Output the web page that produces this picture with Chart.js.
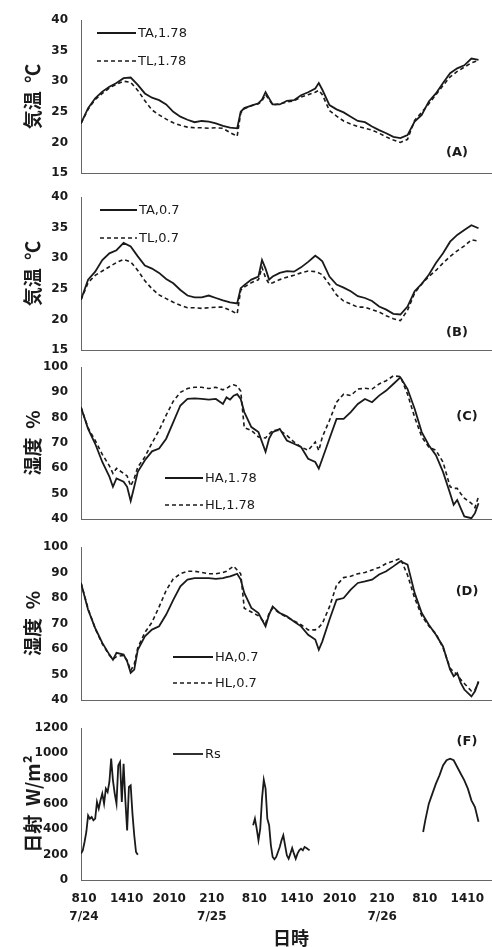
<!DOCTYPE html>
<html>
<head>
<meta charset="utf-8">
<script src="https://cdn.jsdelivr.net/npm/chart.js@4.4.1/dist/chart.umd.min.js"></script>
<style>
  html, body { margin: 0; padding: 0; background: #fff; }
  body { width: 492px; height: 947px; position: relative; overflow: hidden; }
  canvas { position: absolute; left: 0; }
</style>
</head>
<body>
<canvas id="chart-a" width="492" height="197" style="top:-2px"></canvas>
<canvas id="chart-b" width="492" height="197" style="top:175px"></canvas>
<canvas id="chart-c" width="492" height="196" style="top:345px"></canvas>
<canvas id="chart-d" width="492" height="197" style="top:525px"></canvas>
<canvas id="chart-f" width="492" height="241" style="top:706px"></canvas>
<script>
// hours since 7/24 8:10
const hoursT = [0,1,2,3,4,5,6,7,8,9,10,11,12,13,14,15,16,17,18,19,20,21,22,22.5,23,24,25,25.5,26,26.5,
  27,28,29,30,31,32,33,33.5,34,35,36,37,38,39,40,41,42,43,44,45,46,47,48,49,50,51,52,53,54,55,56];

const taHigh = [23.1,25.6,27.2,28.3,29.1,29.7,30.5,30.6,29.4,28.0,27.3,26.9,26.2,25.0,24.2,23.7,23.3,23.5,23.4,23.1,22.7,22.4,22.3,
  25.0,25.6,26.0,26.4,27.0,28.2,27.2,
  26.2,26.2,26.8,26.9,27.7,28.2,28.8,29.7,
  28.6,26.1,25.4,24.9,24.2,23.5,23.3,22.6,22.0,21.5,20.9,20.7,21.2,23.4,24.5,26.7,28.0,29.7,31.3,32.1,32.6,33.7,33.5];
const tlHigh = [23.1,25.4,27.0,28.0,28.9,29.5,30.0,29.8,28.5,26.8,25.3,24.5,23.8,23.2,22.8,22.5,22.4,22.4,22.3,22.4,22.3,21.6,21.0,
  24.8,25.5,26.0,26.3,26.8,27.8,27.0,
  26.1,26.3,26.6,26.8,27.4,27.8,28.2,28.5,
  27.8,25.2,24.3,23.5,23.0,22.6,22.3,22.0,21.5,20.9,20.4,20.0,20.5,23.6,24.9,26.3,27.8,29.3,30.7,31.6,32.3,33.0,33.4];
const taLow = [23.2,26.5,27.8,29.7,30.8,31.3,32.5,31.9,30.3,28.8,28.3,27.6,26.6,25.9,24.8,23.9,23.6,23.6,23.9,23.5,23.1,22.8,22.6,
  25.1,25.6,26.5,27.0,29.7,28.3,26.5,
  27.0,27.6,27.9,27.8,28.5,29.4,30.4,30.0,
  29.5,27.0,25.7,25.2,24.6,23.8,23.5,23.0,22.1,21.6,20.9,20.8,22.1,24.6,25.8,27.3,29.2,30.8,32.7,33.8,34.6,35.4,34.9];
const tlLow = [23.2,26.0,27.2,27.9,28.6,29.3,29.8,29.4,28.0,26.3,25.0,24.0,23.4,22.8,22.3,21.9,21.9,21.8,21.9,22.0,22.0,21.5,20.9,
  24.8,25.3,26.0,26.5,28.5,26.8,25.8,
  26.0,26.5,26.9,27.2,27.6,27.9,27.8,27.6,
  27.3,25.7,24.0,23.0,22.5,22.0,22.0,21.6,21.2,20.6,20.1,19.8,21.5,24.3,25.8,27.0,28.0,29.2,30.3,31.2,32.0,33.0,32.8];

const hoursH = [0,1,2,3,4,4.5,5,6,6.5,7,7.5,8,9,10,11,12,13,14,15,16,17,18,19,20,20.5,21,21.5,22,22.5,
  23,24,25,26,26.5,27,28,29,30,31,32,33,33.5,34,35,36,37,38,39,40,41,42,43,44,45,46,47,48,49,50,51,52,
  52.5,53,53.5,54,55,55.5,56];

const haHigh = [84.1,75.6,69.7,62.5,56.7,52.7,56.0,54.7,52.7,47.1,52.7,
  58.6,63.2,66.7,67.8,71.7,78.2,84.8,87.4,87.6,87.4,87.1,87.4,85.4,
  88.0,87.1,88.7,89.3,87.4,
  82.2,76.3,74.3,66.5,71.7,
  74.3,75.6,71.0,69.7,68.4,63.8,62.5,59.9,
  63.8,71.7,79.5,79.5,82.2,85.4,87.4,86.1,88.7,90.7,93.3,95.9,91.3,83.5,74.3,69.1,65.2,58.6,50.1,
  45.6,47.5,44.2,41.0,40.3,42.3,46.2];
const hlHigh = [84.1,76.0,71.0,65.5,61.0,58.0,60.0,58.0,57.0,53.0,56.0,
  60.5,64.5,70.0,75.0,81.0,86.5,90.0,91.5,92.0,92.0,91.5,92.0,91.0,
  91.5,92.5,93.0,92.5,90.5,
  76.0,75.0,72.4,72.0,73.5,
  75.0,75.0,73.0,70.4,68.4,67.1,70.4,67.0,
  72.4,78.9,86.1,89.3,88.7,91.3,91.6,91.3,93.3,94.6,96.5,96.2,89.3,80.2,72.4,68.4,67.1,62.5,52.7,
  52.1,52.1,50.0,48.2,46.2,44.5,48.8];
const haLow = [85.9,75.4,68.2,62.4,57.8,55.8,58.5,57.8,55.2,50.6,51.9,
  59.7,65.0,67.6,68.9,73.5,79.3,84.6,87.2,87.8,87.8,87.8,87.5,87.8,
  88.2,88.5,89.0,89.5,87.2,
  82.0,76.1,74.1,68.9,73.5,
  76.7,74.1,72.8,70.8,68.9,65.6,63.7,59.7,
  63.0,71.5,79.3,80.0,83.3,85.9,86.5,87.2,89.2,90.5,92.4,94.4,93.1,82.0,74.1,69.5,65.6,61.0,51.9,
  49.3,50.6,46.7,44.1,41.4,43.4,47.3];
const hlLow = [85.9,75.8,68.0,62.0,57.5,56.0,57.0,57.5,55.5,51.5,54.0,
  60.5,66.5,70.5,76.5,83.0,87.5,89.5,90.5,90.5,90.0,89.5,89.5,90.0,
  90.5,91.5,92.5,91.0,89.5,
  76.0,74.5,73.0,70.0,74.0,
  76.0,74.0,72.5,71.0,69.5,67.5,67.5,68.5,
  70.0,76.5,85.0,88.0,88.5,89.5,90.0,91.0,92.0,93.5,94.5,95.5,89.0,80.0,73.0,69.0,66.0,60.5,52.5,
  51.0,50.0,48.0,46.5,43.5,44.0,47.0];

const rsHours = [0,0.25,0.5,0.75,1,1.25,1.5,1.75,2,2.25,2.5,2.75,3,3.25,3.5,3.75,4,4.25,4.5,4.75,5,5.25,5.5,5.75,6,6.25,6.5,6.75,7,7.25,7.5,7.75,8,
  16,
  24.25,24.5,24.75,25,25.25,25.5,25.75,26,26.25,26.5,26.75,27,27.25,27.5,27.75,28,28.25,28.5,28.75,29,29.25,29.5,29.75,30,30.25,30.5,30.75,31,31.25,31.5,31.75,32.2,
  40,
  48.2,48.5,49,49.5,50,50.5,51,51.5,52,52.5,53,53.5,54,54.5,55,55.5,56];
const rsValues = [208,234,300,379,510,484,497,471,484,616,563,629,682,603,721,695,774,958,787,682,603,905,932,616,918,629,392,734,747,524,353,221,200,
  null,
  432,484,405,313,405,642,790,721,484,432,274,182,163,182,221,261,313,353,274,195,168,208,253,208,168,208,234,247,234,261,253,234,
  null,
  379,471,603,682,761,826,905,945,958,945,892,839,787,721,629,576,460];

const tickHours = [0,6,12,18,24,30,36,42,48,54];
const tickTimes = ["810","1410","2010","210","810","1410","2010","210","810","1410"];
const tickDates = ["7/24","","","7/25","","","","7/26","",""];

const INK = "#1a1a1a";
const SANS = "'DejaVu Sans', sans-serif";
const CJK = "'Noto Sans CJK JP', sans-serif";

// legend samples, panel tags and the time title
const panelText = {
  id: "panelText",
  afterDatasetsDraw(chart, args, opts) {
    const { ctx, chartArea: a } = chart;
    ctx.save();
    ctx.strokeStyle = INK;
    ctx.fillStyle = INK;
    ctx.textBaseline = "middle";
    (opts.legend || []).forEach((item, i) => {
      const ds = chart.data.datasets[i];
      ctx.lineWidth = ds.borderWidth;
      ctx.setLineDash(ds.borderDash || []);
      ctx.beginPath();
      ctx.moveTo(a.left + item.x0, a.top + item.y);
      ctx.lineTo(a.left + item.x1, a.top + item.y);
      ctx.stroke();
      ctx.setLineDash([]);
      ctx.font = "13px " + SANS;
      ctx.textAlign = "left";
      ctx.fillText(ds.label, a.left + item.x1 + 2, a.top + item.y + 1);
    });
    if (opts.tag) {
      ctx.font = "bold 13px " + SANS;
      ctx.textAlign = "center";
      ctx.fillText(opts.tag, a.left + opts.tagX, a.top + opts.tagY);
    }
    if (opts.xTitle) {
      ctx.font = "bold 18px " + CJK;
      ctx.textAlign = "center";
      ctx.fillText(opts.xTitle, 291, chart.height - 9);
    }
    ctx.restore();
  }
};

function makeChart(id, cfg) {
  const bottomAxis = !!cfg.xLabels;
  return new Chart(document.getElementById(id), {
    type: "line",
    data: {
      datasets: cfg.series.map((s) => ({
        label: s.label,
        data: s.xs.map((x, i) => ({ x, y: s.ys[i] })),
        borderColor: INK,
        borderWidth: s.dashed ? 1.6 : 1.8,
        borderDash: s.dashed ? [4, 3] : [],
        pointRadius: 0,
        tension: 0,
        fill: false,
        spanGaps: false,
      })),
    },
    options: {
      responsive: false,
      animation: false,
      layout: { padding: { top: 22, bottom: bottomAxis ? 11 : 22, left: 0, right: 0 } },
      plugins: {
        legend: { display: false },
        tooltip: { enabled: false },
        panelText: cfg.text,
      },
      scales: {
        x: {
          type: "linear",
          min: 0,
          max: 57.9,
          grid: { display: false, drawTicks: false },
          border: { display: true, color: "#666", dash: [1, 1], width: 1 },
          afterBuildTicks: (s) => { s.ticks = tickHours.map((v) => ({ value: v })); },
          ticks: {
            display: bottomAxis,
            autoSkip: false,
            maxRotation: 0,
            padding: 10,
            labelOffset: 3,
            color: INK,
            font: { family: SANS, size: 12, weight: "bold", lineHeight: 1.5 },
            callback: (v, i) => (tickDates[i] ? [tickTimes[i], tickDates[i]] : tickTimes[i]),
          },
        },
        y: {
          min: cfg.yMin,
          max: cfg.yMax,
          afterFit: (s) => { s.width = 81; },
          grid: { display: false, drawTicks: false },
          border: { display: true, color: "#666", dash: [1, 1], width: 1 },
          ticks: {
            stepSize: cfg.yStep,
            padding: 13,
            color: INK,
            font: { family: SANS, size: 12, weight: "bold" },
            callback: (v) => String(v),
          },
          title: {
            display: true,
            text: cfg.yTitle,
            color: INK,
            font: { family: CJK, size: 19, weight: "bold" },
            padding: { top: 21, bottom: 0 },
          },
        },
      },
    },
    plugins: [panelText],
  });
}

makeChart("chart-a", {
  yMin: 15, yMax: 40, yStep: 5, yTitle: "気温  ℃",
  series: [
    { label: "TA,1.78", xs: hoursT, ys: taHigh },
    { label: "TL,1.78", xs: hoursT, ys: tlHigh, dashed: true },
  ],
  text: { legend: [{ x0: 16, x1: 55, y: 13 }, { x0: 16, x1: 55, y: 41 }], tag: "(A)", tagX: 376, tagY: 133 },
});

makeChart("chart-b", {
  yMin: 15, yMax: 40, yStep: 5, yTitle: "気温  ℃",
  series: [
    { label: "TA,0.7", xs: hoursT, ys: taLow },
    { label: "TL,0.7", xs: hoursT, ys: tlLow, dashed: true },
  ],
  text: { legend: [{ x0: 19, x1: 56, y: 13 }, { x0: 19, x1: 56, y: 41 }], tag: "(B)", tagX: 376, tagY: 136 },
});

makeChart("chart-c", {
  yMin: 40, yMax: 100, yStep: 10, yTitle: "湿度  %",
  series: [
    { label: "HA,1.78", xs: hoursH, ys: haHigh },
    { label: "HL,1.78", xs: hoursH, ys: hlHigh, dashed: true },
  ],
  text: { legend: [{ x0: 84, x1: 122, y: 111 }, { x0: 84, x1: 122, y: 138 }], tag: "(C)", tagX: 386, tagY: 50 },
});

makeChart("chart-d", {
  yMin: 40, yMax: 100, yStep: 10, yTitle: "湿度  %",
  series: [
    { label: "HA,0.7", xs: hoursH, ys: haLow },
    { label: "HL,0.7", xs: hoursH, ys: hlLow, dashed: true },
  ],
  text: { legend: [{ x0: 92, x1: 132, y: 110 }, { x0: 92, x1: 132, y: 136 }], tag: "(D)", tagX: 386, tagY: 45 },
});

makeChart("chart-f", {
  yMin: 0, yMax: 1200, yStep: 200, yTitle: "日射  W/m²",
  xLabels: true,
  series: [{ label: "Rs", xs: rsHours, ys: rsValues }],
  text: { legend: [{ x0: 92, x1: 122, y: 26 }], tag: "(F)", tagX: 386, tagY: 14, xTitle: "日時" },
});
</script>
</body>
</html>
